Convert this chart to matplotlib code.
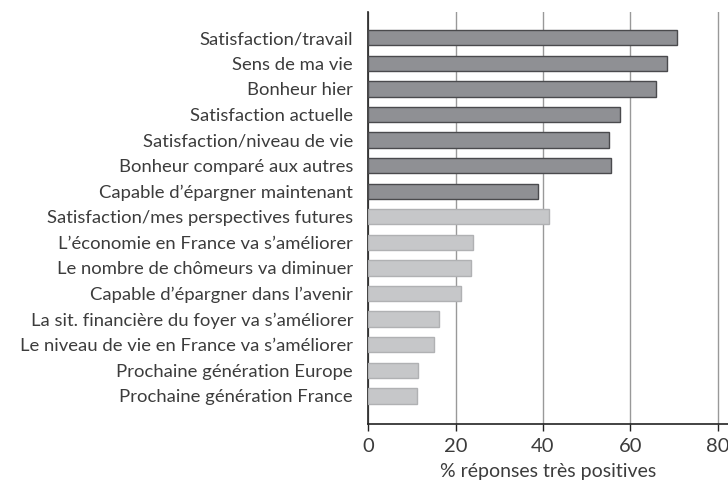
import matplotlib.pyplot as plt

categories = [
    "Satisfaction/travail",
    "Sens de ma vie",
    "Bonheur hier",
    "Satisfaction actuelle",
    "Satisfaction/niveau de vie",
    "Bonheur comparé aux autres",
    "Capable d’épargner maintenant",
    "Satisfaction/mes perspectives futures",
    "L’économie en France va s’améliorer",
    "Le nombre de chômeurs va diminuer",
    "Capable d’épargner dans l’avenir",
    "La sit. financière du foyer va s’améliorer",
    "Le niveau de vie en France va s’améliorer",
    "Prochaine génération Europe",
    "Prochaine génération France",
]
values = [70.8, 68.5, 65.8, 57.7, 55.2, 55.6, 38.8,
          41.4, 23.9, 23.6, 21.3, 16.1, 15.0, 11.3, 11.2]
n_dark = 7
x_ticks = [0, 20, 40, 60, 80]

plt.rcParams["font.family"] = ["Lato", "DejaVu Sans"]
text_color = "#3c3c3c"

fig = plt.figure(figsize=(7.28, 4.83), dpi=100)
ax = fig.add_axes([0.506, 0.122, 0.494, 0.853])

pos = list(range(len(categories)))
fills = ["#8f9094" if i < n_dark else "#c6c7c9" for i in pos]
edges = ["#4a4a4d" if i < n_dark else "#b0b1b3" for i in pos]
ax.barh(pos, values, height=0.6, color=fills, edgecolor=edges, linewidth=1.0, zorder=3)

ax.set_ylim(len(categories) - 1 + 1.1, -1.0)
ax.set_xlim(0, 82.4)
ax.set_yticks(pos)
ax.set_yticklabels(categories, fontsize=13.3, color=text_color)
ax.set_xticks(x_ticks)
ax.set_xticklabels([str(t) for t in x_ticks], fontsize=14.5, color=text_color)
ax.tick_params(axis="y", length=0, pad=11)
ax.tick_params(axis="x", length=5, width=1, color="#222222", pad=5)
ax.set_xlabel("% réponses très positives", fontsize=14, color=text_color, labelpad=6)

ax.grid(axis="x", color="#999999", linewidth=1.0, zorder=0)
for side in ["top", "right"]:
    ax.spines[side].set_visible(False)
for side in ["left", "bottom"]:
    ax.spines[side].set_color("#222222")
    ax.spines[side].set_linewidth(1.2)

fig.savefig("out.png", dpi=100)
